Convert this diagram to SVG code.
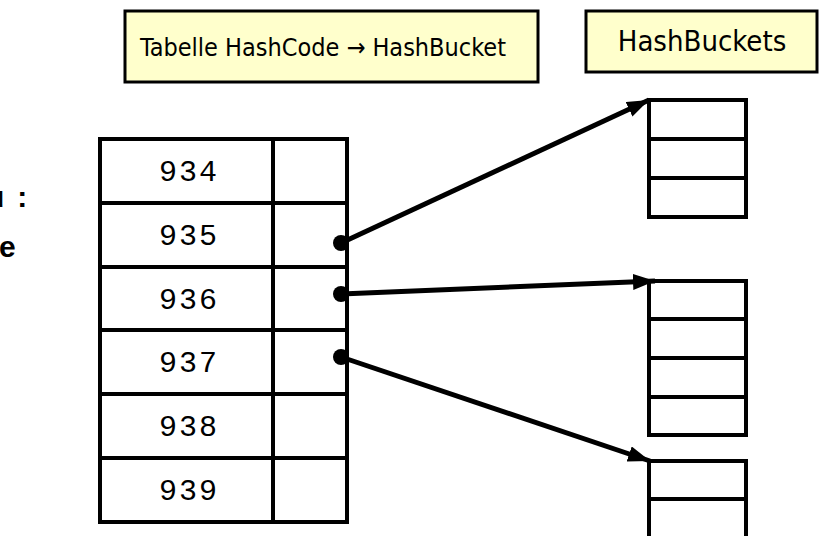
<svg xmlns="http://www.w3.org/2000/svg" width="820" height="536" viewBox="0 0 820 536">
  <style>
    .box { fill: #FFFFCC; stroke: #000; stroke-width: 3; }
    .label { font-family: 'DejaVu Sans Condensed', 'DejaVu Sans', sans-serif; font-size: 25px; fill: #000; text-anchor: middle; }
    .cell { fill: #fff; stroke: #000; stroke-width: 4; }
    .grid { stroke: #000; stroke-width: 4; fill: none; }
    .code { font-family: 'Liberation Mono', 'Courier New', monospace; font-size: 30px; letter-spacing: 2px; fill: #000; text-anchor: middle; }
    .side { font-family: 'Liberation Sans', Arial, sans-serif; font-weight: bold; font-size: 30px; fill: #000; }
    .link { stroke: #000; stroke-width: 5; fill: none; marker-end: url(#arrow); }
    .dot { fill: #000; }
  </style>
  <defs>
    <marker id="arrow" markerUnits="userSpaceOnUse" markerWidth="24" markerHeight="18" refX="22" refY="8" orient="auto">
      <path d="M0,0 L22,8 L0,16 z" fill="#000"/>
    </marker>
  </defs>

  <rect width="820" height="536" fill="#fff"/>

  <!-- text running in from the left margin -->
  <g id="margin-text">
    <text class="side" x="-14" y="207">u<tspan dx="13">:</tspan></text>
    <text class="side" x="-1" y="257">e</text>
  </g>

  <!-- caption boxes -->
  <g id="title-table">
    <rect class="box" x="125" y="11" width="413" height="71"/>
    <text class="label" x="323" y="56">Tabelle HashCode → HashBucket</text>
  </g>
  <g id="title-buckets">
    <rect class="box" x="586" y="11" width="231" height="61"/>
    <text class="label" x="702" y="51" style="font-size:29px">HashBuckets</text>
  </g>

  <!-- hash table: code column and pointer column -->
  <g id="hash-table">
    <rect class="cell" x="100" y="139" width="247" height="383"/>
    <path class="grid" d="M273,139 V522 M100,203 H347 M100,267 H347 M100,330 H347 M100,394 H347 M100,458 H347"/>
    <text class="code" x="189" y="181">934</text>
    <text class="code" x="189" y="245">935</text>
    <text class="code" x="189" y="309">936</text>
    <text class="code" x="189" y="372">937</text>
    <text class="code" x="189" y="436">938</text>
    <text class="code" x="189" y="500">939</text>
  </g>

  <!-- buckets -->
  <g id="bucket-1">
    <rect class="cell" x="649" y="100" width="97" height="117"/>
    <path class="grid" d="M649,139 H746 M649,178 H746"/>
  </g>
  <g id="bucket-2">
    <rect class="cell" x="649" y="281" width="97" height="154"/>
    <path class="grid" d="M649,319 H746 M649,358 H746 M649,397 H746"/>
  </g>
  <g id="bucket-3">
    <rect class="cell" x="649" y="461" width="97" height="90"/>
    <path class="grid" d="M649,499 H746"/>
  </g>

  <!-- pointers from table slots to buckets -->
  <g id="connectors">
    <line class="link" x1="341" y1="243" x2="649" y2="100"/>
    <line class="link" x1="341" y1="294" x2="655" y2="281"/>
    <line class="link" x1="341" y1="357" x2="650" y2="461"/>
    <circle class="dot" cx="341" cy="243" r="8"/>
    <circle class="dot" cx="341" cy="294" r="8"/>
    <circle class="dot" cx="341" cy="357" r="8"/>
  </g>
</svg>
